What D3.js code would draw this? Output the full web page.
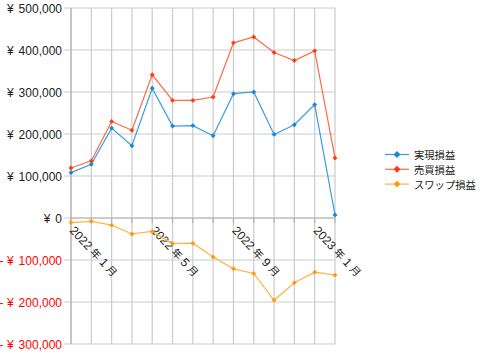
<!DOCTYPE html>
<html><head><meta charset="utf-8">
<script src="https://cdn.jsdelivr.net/npm/d3@7"></script>
<style>body{margin:0;background:#fff}svg{display:block}text{font-family:"Liberation Sans","Noto Sans CJK JP",sans-serif}</style>
</head><body><svg id="c" width="480" height="356"></svg>
<script>
const months = ["2022-01","2022-02","2022-03","2022-04","2022-05","2022-06","2022-07","2022-08","2022-09","2022-10","2022-11","2022-12","2023-01","2023-02"];
const xLabels = {"2022-01":["2022","年","1","月"],"2022-05":["2022","年","5","月"],"2022-09":["2022","年","9","月"],"2023-01":["2023","年","1","月"]};
const realized = [108000,128000,214000,172000,309000,219000,220000,196000,296000,300000,199000,222000,270000,7000];
const trading = [119000,136000,230000,209000,341000,280000,280000,288000,417000,431000,394000,375000,398000,143000];
const swap = [-11000,-8000,-17000,-38000,-32000,-61000,-60000,-93000,-121000,-132000,-196000,-154000,-129000,-136000];
const yTicks = [-300000,-200000,-100000,0,100000,200000,300000,400000,500000];
const seriesNames = ["実現損益","売買損益","スワップ損益"];
const lineColors = ["#3a9ee0","#ff6a48","#ffb347"];
const markColors = ["#1a88d8","#ff3d10","#ff9a10"];

const svg = d3.select("#c");
const L=71,R=335,T=8,B=344;
const x = d3.scalePoint().domain(months).range([L,R]);
const y = d3.scaleLinear().domain([-300000,500000]).range([B,T]);

const g = svg.append("g");
g.selectAll(".vg").data(months).join("line")
 .attr("x1",d=>x(d)).attr("x2",d=>x(d)).attr("y1",T).attr("y2",B)
 .attr("stroke","#cccccc").attr("stroke-width",1.2);
g.selectAll(".hg").data(yTicks).join("line")
 .attr("x1",L-7).attr("x2",R).attr("y1",d=>y(d)).attr("y2",d=>y(d))
 .attr("stroke","#cccccc").attr("stroke-width",1.2);
g.selectAll(".zt").data(months).join("line")
 .attr("x1",d=>x(d)).attr("x2",d=>x(d)).attr("y1",y(0)).attr("y2",y(0)+5)
 .attr("stroke","#b0b0b0").attr("stroke-width",1.2);
g.append("line").attr("x1",L).attr("x2",R).attr("y1",y(0)).attr("y2",y(0)).attr("stroke","#b3b3b3").attr("stroke-width",1.2);
g.append("line").attr("x1",L).attr("x2",L).attr("y1",T).attr("y2",B).attr("stroke","#b3b3b3").attr("stroke-width",1.2);

const yl = g.selectAll(".yl").data(yTicks).join("text")
 .attr("x",L-9).attr("y",d=>y(d)+4.5).attr("text-anchor","end")
 .attr("font-size",12).attr("fill",d=>d<0?"#ff0000":"#222");
yl.each(function(d){
  const t = d3.select(this);
  t.append("tspan").text((d<0?"- ":"")+"¥");
  t.append("tspan").attr("dx",5).text(d3.format(",")(Math.abs(d)));
});

const xl = g.selectAll(".xl").data(months.filter(m=>xLabels[m])).join("text")
 .attr("transform",d=>`translate(${x(d)-2},${y(0)+13}) rotate(47)`)
 .attr("fill","#222");
xl.each(function(d){
  const t = d3.select(this);
  xLabels[d].forEach((p,k)=>{
    t.append("tspan").attr("font-size",(k%2)?10.5:12).text((k>0?" ":"")+p);
  });
});

const sym = d3.symbol().type(d3.symbolSquare).size(12);
[realized,trading,swap].forEach((vals,i)=>{
  const line = d3.line().x((d,j)=>x(months[j])).y(d=>y(d));
  g.append("path").attr("d",line(vals)).attr("fill","none").attr("stroke",lineColors[i]).attr("stroke-width",1.2);
  g.selectAll(".m"+i).data(vals).join("path")
   .attr("transform",(d,j)=>`translate(${x(months[j])},${y(d)}) rotate(45)`)
   .attr("d",sym).attr("fill",markColors[i]);
});

const lg = svg.append("g");
seriesNames.forEach((n,i)=>{
  const yy = 154.5 + i*14.8;
  lg.append("line").attr("x1",385).attr("x2",409).attr("y1",yy).attr("y2",yy).attr("stroke",lineColors[i]).attr("stroke-width",1.2);
  lg.append("path").attr("transform",`translate(397,${yy}) rotate(45)`).attr("d",d3.symbol().type(d3.symbolSquare).size(24)()).attr("fill",markColors[i]);
  lg.append("text").attr("x",414).attr("y",yy+4.5).attr("font-size",10.3).attr("fill","#222").text(n);
});
</script></body></html>
